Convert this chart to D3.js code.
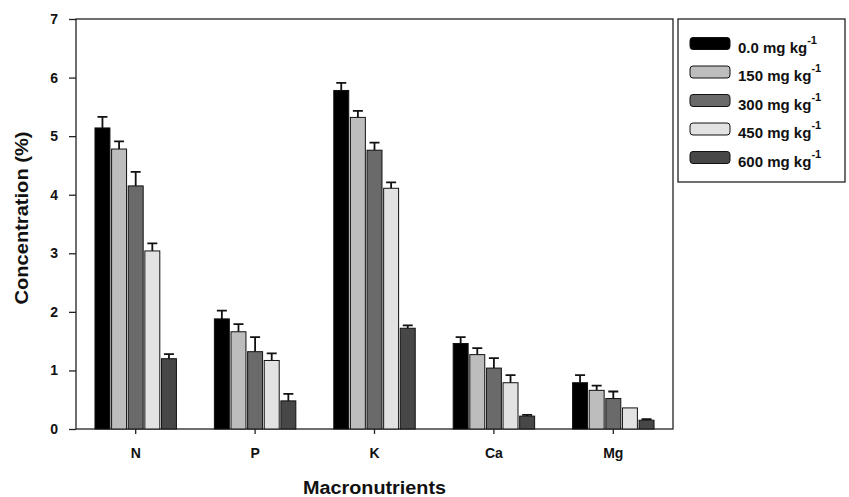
<!DOCTYPE html>
<html>
<head>
<meta charset="utf-8">
<script src="https://d3js.org/d3.v7.min.js"></script>
<style>
  body { margin: 0; background: #fff; }
  svg { display: block; font-family: "Liberation Sans", Arial, sans-serif; }
  .axis path, .axis line { stroke: #222; stroke-width: 1.3px; }
  .axis text { font-size: 14px; font-weight: bold; fill: #111; }
</style>
</head>
<body>
<svg width="849" height="497"></svg>
<script>
// nutrient groups on the x axis
var nutrients = ["N", "P", "K", "Ca", "Mg"];
// treatment doses (legend), mg kg-1
var doses = ["0.0", "150", "300", "450", "600"];
var colors = ["#000000", "#bdbdbd", "#6a6a6a", "#e2e2e2", "#474747"];
// mean concentration (%) per dose, in nutrient order
var dose0   = [5.14, 1.88, 5.78, 1.46, 0.79];
var dose150 = [4.78, 1.66, 5.32, 1.27, 0.66];
var dose300 = [4.15, 1.32, 4.76, 1.04, 0.52];
var dose450 = [3.04, 1.17, 4.11, 0.79, 0.36];
var dose600 = [1.20, 0.48, 1.72, 0.22, 0.15];
// standard errors (upper bar only)
var err0   = [0.19, 0.14, 0.13, 0.11, 0.13];
var err150 = [0.13, 0.13, 0.11, 0.11, 0.08];
var err300 = [0.24, 0.25, 0.13, 0.17, 0.12];
var err450 = [0.13, 0.12, 0.10, 0.13, 0.00];
var err600 = [0.08, 0.12, 0.05, 0.02, 0.02];
var yTicks = [0, 1, 2, 3, 4, 5, 6, 7];

var means = [dose0, dose150, dose300, dose450, dose600],
    errs = [err0, err150, err300, err450, err600];

var svg = d3.select("svg"),
    margin = {top: 19, right: 176, bottom: 68, left: 76},
    width = svg.attr("width") - margin.left - margin.right,
    height = svg.attr("height") - margin.top - margin.bottom,
    g = svg.append("g").attr("transform", "translate(" + margin.left + "," + margin.top + ")");

var data = nutrients.map(function(n, i) {
  return {
    nutrient: n,
    values: doses.map(function(d, j) {
      return {dose: d, idx: j, value: means[j][i], err: errs[j][i]};
    })
  };
});

var x0 = d3.scaleBand().domain(nutrients).range([0, width]).paddingInner(0.29).paddingOuter(0.145),
    x1 = d3.scaleBand().domain(doses).range([0, x0.bandwidth()]).padding(0.1),
    y = d3.scaleLinear().domain([0, 7]).range([height, 0]);

// frame
g.append("rect")
    .attr("width", width)
    .attr("height", height)
    .attr("fill", "none")
    .attr("stroke", "#222")
    .attr("stroke-width", 1.3);

var group = g.selectAll(".group")
  .data(data)
  .enter().append("g")
    .attr("class", "group")
    .attr("transform", function(d) { return "translate(" + x0(d.nutrient) + ",0)"; });

var bar = group.selectAll(".bar")
  .data(function(d) { return d.values; })
  .enter().append("g")
    .attr("class", "bar");

// error bars behind the bars
bar.filter(function(d) { return d.err > 0; })
  .append("path")
    .attr("d", function(d) {
      var cx = x1(d.dose) + x1.bandwidth() / 2,
          yt = y(d.value + d.err);
      return "M" + cx + "," + y(d.value) + "V" + yt + "M" + (cx - 5) + "," + yt + "H" + (cx + 5);
    })
    .attr("stroke", "#111")
    .attr("stroke-width", 1.8)
    .attr("fill", "none");

bar.append("rect")
    .attr("x", function(d) { return x1(d.dose); })
    .attr("y", function(d) { return y(d.value); })
    .attr("width", x1.bandwidth())
    .attr("height", function(d) { return height - y(d.value); })
    .attr("fill", function(d) { return colors[d.idx]; })
    .attr("stroke", "#111")
    .attr("stroke-width", 1);

g.append("g")
    .attr("class", "axis axis--x")
    .attr("transform", "translate(0," + height + ")")
    .call(d3.axisBottom(x0).tickSizeOuter(0).tickSizeInner(5).tickPadding(14))
  .call(function(a) { a.select(".domain").remove(); });

g.append("g")
    .attr("class", "axis axis--y")
    .call(d3.axisLeft(y).tickValues(yTicks).tickFormat(d3.format("d")).tickSizeOuter(0).tickSizeInner(7).tickPadding(11))
  .call(function(a) { a.select(".domain").remove(); });

g.append("text")
    .attr("transform", "rotate(-90)")
    .attr("x", -199)
    .attr("y", -48)
    .attr("text-anchor", "middle")
    .attr("textLength", 173)
    .attr("lengthAdjust", "spacingAndGlyphs")
    .style("font", "bold 18px 'Liberation Sans', Arial, sans-serif")
    .attr("fill", "#111")
    .text("Concentration (%)");

g.append("text")
    .attr("x", width / 2)
    .attr("y", height + 65)
    .attr("text-anchor", "middle")
    .attr("textLength", 143)
    .attr("lengthAdjust", "spacingAndGlyphs")
    .style("font", "bold 18px 'Liberation Sans', Arial, sans-serif")
    .attr("fill", "#111")
    .text("Macronutrients");

// legend
var legend = svg.append("g").attr("transform", "translate(678,19)");

legend.append("rect")
    .attr("width", 167)
    .attr("height", 163)
    .attr("fill", "#fff")
    .attr("stroke", "#222")
    .attr("stroke-width", 1.3);

var item = legend.selectAll(".item")
  .data(doses)
  .enter().append("g")
    .attr("class", "item")
    .attr("transform", function(d, i) { return "translate(12," + (24.5 + i * 28.5) + ")"; });

item.append("rect")
    .attr("x", 0)
    .attr("y", -6)
    .attr("width", 40)
    .attr("height", 12)
    .attr("rx", 3)
    .attr("fill", function(d, i) { return colors[i]; })
    .attr("stroke", "#111")
    .attr("stroke-width", 1);

var label = item.append("text")
    .attr("x", 48)
    .attr("y", 9)
    .style("font", "bold 15px 'Liberation Sans', Arial, sans-serif")
    .attr("fill", "#111");

label.append("tspan").text(function(d) { return d + " mg kg"; });
label.append("tspan")
    .attr("dy", -9)
    .style("font-size", "11px")
    .text("-1");
</script>
</body>
</html>
